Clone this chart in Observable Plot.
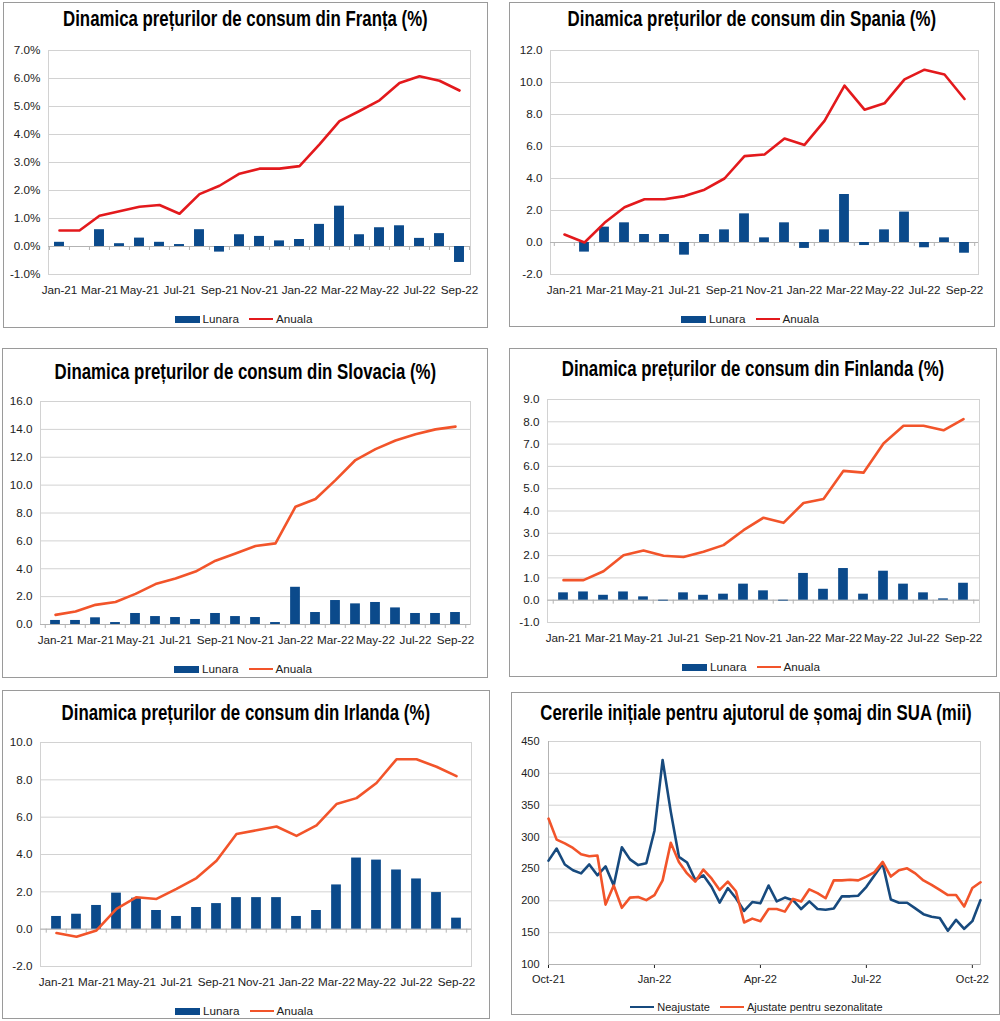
<!DOCTYPE html>
<html><head><meta charset="utf-8">
<script src="https://cdn.jsdelivr.net/npm/d3@7"></script>
<script src="https://cdn.jsdelivr.net/npm/@observablehq/plot@0.6"></script>
<style>
body{margin:0;background:#fff;}
#root{position:relative;width:1000px;height:1021px;background:#fff;overflow:hidden;font-family:"Liberation Sans",Arial,sans-serif;}
.panel{position:absolute;background:#fff;}
.panel svg{position:absolute;left:0;top:0;}
.border{position:absolute;left:0;top:0;right:0;bottom:0;box-sizing:border-box;border:1px solid #9a9a9a;pointer-events:none;}
.title{position:absolute;left:0;right:0;display:flex;justify-content:center;line-height:1;white-space:nowrap;}
.title span{flex:none;display:inline-block;font-family:"Liberation Sans",Arial,sans-serif;font-weight:bold;font-size:22px;color:#000;transform:scaleX(0.765);transform-origin:50% 50%;}
.legend{position:absolute;left:0;right:0;display:flex;justify-content:center;align-items:center;font-size:11.7px;color:#222;line-height:1;white-space:nowrap;}
.sw-bar{display:inline-block;width:25px;height:7px;margin-right:3px;}
.sw-line{display:inline-block;width:24px;height:2.5px;margin:0 3px 0 6px;}
</style></head>
<body><div id="root"></div>
<script>
// ---- Data ----
const months = ["Jan-21","Feb-21","Mar-21","Apr-21","May-21","Jun-21","Jul-21","Aug-21","Sep-21","Oct-21","Nov-21","Dec-21","Jan-22","Feb-22","Mar-22","Apr-22","May-22","Jun-22","Jul-22","Aug-22","Sep-22"];

const franceMonthly = [0.15,0,0.6,0.1,0.3,0.15,0.07,0.6,-0.2,0.42,0.36,0.2,0.25,0.79,1.44,0.42,0.67,0.74,0.29,0.46,-0.57];
const franceAnnual  = [0.57,0.57,1.1,1.26,1.42,1.48,1.17,1.87,2.17,2.6,2.78,2.78,2.87,3.65,4.48,4.84,5.22,5.84,6.08,5.92,5.57];

const spainMonthly = [0,-0.6,0.96,1.23,0.5,0.5,-0.79,0.5,0.79,1.79,0.29,1.23,-0.37,0.79,3.0,-0.19,0.79,1.9,-0.33,0.29,-0.67];
const spainAnnual  = [0.5,0.0,1.23,2.2,2.7,2.7,2.9,3.3,4.0,5.4,5.5,6.5,6.1,7.6,9.8,8.3,8.7,10.2,10.8,10.5,8.97];

const slovakiaMonthly = [0.29,0.29,0.48,0.14,0.79,0.57,0.5,0.36,0.79,0.57,0.5,0.14,2.67,0.86,1.72,1.48,1.58,1.19,0.79,0.79,0.86];
const slovakiaAnnual  = [0.69,0.93,1.41,1.62,2.2,2.9,3.3,3.8,4.58,5.1,5.63,5.82,8.45,9.0,10.36,11.8,12.58,13.2,13.65,14.0,14.2];

const finlandMonthly = [0.33,0.37,0.22,0.37,0.15,-0.04,0.33,0.22,0.27,0.72,0.42,-0.04,1.2,0.49,1.42,0.27,1.3,0.72,0.33,0.06,0.76];
const finlandAnnual  = [0.9,0.9,1.3,2.02,2.23,1.99,1.94,2.17,2.47,3.14,3.7,3.47,4.36,4.54,5.8,5.72,7.03,7.82,7.82,7.62,8.12];

const irelandMonthly = [0.68,0.8,1.27,1.93,1.66,1.0,0.68,1.16,1.37,1.69,1.69,1.69,0.68,1.0,2.37,3.81,3.7,3.17,2.69,1.96,0.59];
const irelandAnnual  = [-0.21,-0.41,-0.07,1.09,1.71,1.62,2.16,2.74,3.67,5.1,5.3,5.5,5.0,5.56,6.7,7.02,7.83,9.1,9.1,8.7,8.2];

const franceTicks = [-1,0,1,2,3,4,5,6,7];
const spainTicks = [-2,0,2,4,6,8,10,12];
const slovakiaTicks = [0,2,4,6,8,10,12,14,16];
const finlandTicks = [-1,0,1,2,3,4,5,6,7,8,9];
const irelandTicks = [-2,0,2,4,6,8,10];

// US initial jobless claims (thousands), weekly from week ending 2 Oct 2021
const usStart = "2021-10-02";
const usNeajustate = [263,282,257,248,243,257,240,254,224,284,265,256,259,310,421,340,269,260,233,240,222,197,220,204,184,198,196,224,199,205,201,187,199,187,186,188,207,207,208,222,240,258,202,197,197,188,179,175,173,153,170,156,168,201];
const usAjustate   = [329,296,290,283,273,270,271,194,224,189,205,206,201,209,232,291,261,243,230,249,235,217,230,215,166,172,168,187,187,183,203,199,218,212,204,232,232,233,232,238,245,261,238,248,251,243,232,225,217,209,209,191,220,229];
const usTickDates = ["2021-10-02","2022-01-01","2022-04-02","2022-07-02","2022-10-01"];
const usYTicks = [100,150,200,250,300,350,400,450];

// ---- Styles ----
const BAR = "#0b4a8b";
const RED = "#e3191c";
const ORANGE = "#f2542a";
const NAVY = "#174a7e";
const GRID = "#d2d2d2";
const FONT = "'Liberation Sans', Arial, sans-serif";

const root = document.getElementById("root");

function makePanel(p) {
  const div = document.createElement("div");
  div.className = "panel";
  Object.assign(div.style, {left: p.left + "px", top: p.top + "px", width: p.width + "px", height: p.height + "px"});
  root.appendChild(div);
  return div;
}
function addTitle(div, text, cy) {
  const t = document.createElement("div");
  t.className = "title";
  const s = document.createElement("span");
  s.textContent = text;
  t.appendChild(s);
  t.style.top = (cy - 12) + "px";
  div.appendChild(t);
}
function addLegend(div, items, cy, fontSize) {
  const l = document.createElement("div");
  l.className = "legend";
  l.style.top = (cy - 7) + "px";
  l.style.height = "14px";
  if (fontSize) l.style.fontSize = fontSize;
  for (const it of items) {
    const s = document.createElement("span");
    s.className = it.type === "bar" ? "sw-bar" : "sw-line";
    s.style.background = it.color;
    l.appendChild(s);
    const tx = document.createElement("span");
    tx.textContent = it.label;
    tx.style.marginRight = "4px";
    l.appendChild(tx);
  }
  div.appendChild(l);
}
function addBorder(div) {
  const b = document.createElement("div");
  b.className = "border";
  div.appendChild(b);
}

function barPanel(p) {
  const div = makePanel(p);
  const data = months.map((m, i) => ({month: m, lunara: p.monthly[i], anuala: p.annual[i]}));
  const step = (p.width - p.mL - p.mR) / months.length;
  const fmt = p.pct ? (v => (v < 0 ? "-" : "") + Math.abs(v).toFixed(1) + "%") : (v => (v < 0 ? "-" : "") + Math.abs(v).toFixed(1));
  const chart = Plot.plot({
    width: p.width, height: p.height,
    marginLeft: p.mL, marginRight: p.mR, marginTop: p.mT, marginBottom: p.mB,
    style: {fontSize: "11.7px", fontFamily: FONT, color: "#222", background: "transparent"},
    x: {type: "band", domain: months, padding: 0, tickSize: 0, tickPadding: 11.5, label: null,
        tickFormat: d => months.indexOf(d) % 2 === 0 ? d : ""},
    y: {domain: [p.yTicks[0], p.yTicks[p.yTicks.length - 1]], ticks: p.yTicks, tickFormat: fmt, tickSize: 0, tickPadding: 8, label: null},
    marks: [
      Plot.ruleY(p.yTicks, {stroke: GRID, strokeWidth: 1}),
      Plot.frame({stroke: GRID}),
      Plot.ruleY([0], {stroke: "#b3b3b3"}),
      Plot.ruleX(months, {x: d => d, y1: 0, y2: 0, dx: -step / 2, insetBottom: -4, stroke: "#b3b3b3"}),
      Plot.ruleX(months.slice(-1), {x: d => d, y1: 0, y2: 0, dx: step / 2, insetBottom: -4, stroke: "#b3b3b3"}),
      Plot.barY(data, {x: "month", y: "lunara", fill: BAR, insetLeft: step * 0.25, insetRight: step * 0.25}),
      Plot.lineY(data, {x: "month", y: "anuala", stroke: p.lineColor, strokeWidth: 2.6, strokeLinejoin: "round", strokeLinecap: "round"})
    ]
  });
  div.appendChild(chart);
  addTitle(div, p.title, p.titleY);
  addLegend(div, [{type: "bar", color: BAR, label: "Lunara"}, {type: "line", color: p.lineColor, label: "Anuala"}], p.legendY);
  addBorder(div);
}

barPanel({left: 3, top: 2, width: 485, height: 326, mL: 45, mR: 18, mT: 48, mB: 54,
  title: "Dinamica prețurilor de consum din Franța (%)", titleY: 18, legendY: 317,
  monthly: franceMonthly, annual: franceAnnual, yTicks: franceTicks, pct: true, lineColor: RED});

barPanel({left: 509, top: 2, width: 486, height: 325, mL: 41, mR: 17, mT: 48, mB: 53,
  title: "Dinamica prețurilor de consum din Spania (%)", titleY: 18, legendY: 317,
  monthly: spainMonthly, annual: spainAnnual, yTicks: spainTicks, pct: false, lineColor: RED});

barPanel({left: 2, top: 348, width: 486, height: 330, mL: 38, mR: 18, mT: 53, mB: 54,
  title: "Dinamica prețurilor de consum din Slovacia (%)", titleY: 25, legendY: 321,
  monthly: slovakiaMonthly, annual: slovakiaAnnual, yTicks: slovakiaTicks, pct: false, lineColor: ORANGE});

barPanel({left: 509, top: 348, width: 488, height: 329, mL: 38, mR: 18, mT: 51, mB: 55,
  title: "Dinamica prețurilor de consum din Finlanda (%)", titleY: 22, legendY: 319,
  monthly: finlandMonthly, annual: finlandAnnual, yTicks: finlandTicks, pct: false, lineColor: ORANGE});

barPanel({left: 2, top: 690, width: 488, height: 329, mL: 38, mR: 19, mT: 52, mB: 53,
  title: "Dinamica prețurilor de consum din Irlanda (%)", titleY: 24, legendY: 321,
  monthly: irelandMonthly, annual: irelandAnnual, yTicks: irelandTicks, pct: false, lineColor: ORANGE});

// ---- US panel ----
(function () {
  const p = {left: 511, top: 692, width: 489, height: 323, mL: 37, mR: 20, mT: 49, mB: 51};
  const div = makePanel(p);
  const start = new Date(usStart + "T00:00:00Z");
  const weeks = usNeajustate.map((_, i) => d3.utcDay.offset(start, 7 * i));
  const nsa = weeks.map((d, i) => ({date: d, v: usNeajustate[i]}));
  const sa = weeks.map((d, i) => ({date: d, v: usAjustate[i]}));
  const ticks = usTickDates.map(s => new Date(s + "T00:00:00Z"));
  const chart = Plot.plot({
    width: p.width, height: p.height,
    marginLeft: p.mL, marginRight: p.mR, marginTop: p.mT, marginBottom: p.mB,
    style: {fontSize: "11px", fontFamily: FONT, color: "#222", background: "transparent"},
    x: {type: "utc", domain: [weeks[0], weeks[weeks.length - 1]], ticks: ticks, tickFormat: d3.utcFormat("%b-%y"), tickSize: 4, tickPadding: 7, label: null},
    y: {domain: [100, 450], ticks: usYTicks, tickSize: 0, tickPadding: 9, label: null},
    marks: [
      Plot.ruleY(usYTicks, {stroke: GRID}),
      Plot.frame({stroke: GRID}),
      Plot.ruleX([weeks[0]], {stroke: "#b3b3b3"}),
      Plot.ruleY([100], {stroke: "#b3b3b3"}),
      Plot.lineY(nsa, {x: "date", y: "v", stroke: NAVY, strokeWidth: 2.6, strokeLinejoin: "round"}),
      Plot.lineY(sa, {x: "date", y: "v", stroke: ORANGE, strokeWidth: 2.6, strokeLinejoin: "round"})
    ]
  });
  div.appendChild(chart);
  addTitle(div, "Cererile inițiale pentru ajutorul de șomaj din SUA (mii)", 22);
  addLegend(div, [{type: "line", color: NAVY, label: "Neajustate"}, {type: "line", color: ORANGE, label: "Ajustate pentru sezonalitate"}], 315, "11px");
  addBorder(div);
})();
</script>
</body></html>
